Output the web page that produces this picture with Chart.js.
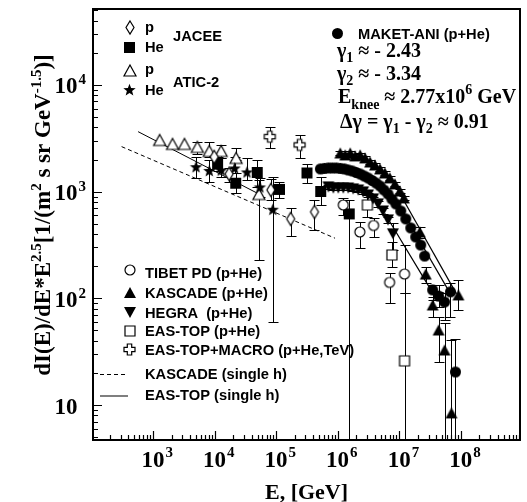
<!DOCTYPE html>
<html>
<head>
<meta charset="utf-8">
<script src="https://cdn.jsdelivr.net/npm/chart.js@4.4.0/dist/chart.umd.min.js"></script>
<style>
  html, body { margin: 0; padding: 0; background: #fff; }
  #wrap { width: 527px; height: 502px; }
</style>
</head>
<body>
<div id="wrap"><canvas id="chart" width="527" height="502"></canvas></div>
<script>
// energy in GeV, flux as dI/dE * E^2.5
const jaceeP_E  = [9890, 17260, 82200, 172600, 421000];
const jaceeP_F  = [2115, 1465, 1037, 555, 646];
const jaceeP_hi = [2240, 1656, 1306, 698, 836];
const jaceeP_lo = [1990, 1241, 836, 385, 437];

const jaceeHe_E  = [11220, 22100, 49400, 113500, 318000, 532000, 1545000];
const jaceeHe_F  = [1818, 1199, 1513, 1049, 1496, 1004, 618];
const jaceeHe_hi = [2130, 1487, 1982, 1241, 1805, 1383, 836];
const jaceeHe_lo = [1560, 966, 1114, 867, 1199, 750, 1];

const aticP_E  = [1283, 2080, 3245, 5260, 8220, 12830, 22400, 52600];
const aticP_F  = [3050, 2800, 2800, 2625, 2405, 2405, 2070, 950];
const aticP_hi = [null, null, null, 2942, 2942, 2740, 2550, 1288];
const aticP_lo = [null, null, null, 2254, 2128, 2055, 1980, 229];

const aticHe_E  = [5010, 8220, 12830, 21200, 33650, 54600, 88500];
const aticHe_F  = [1715, 1581, 1597, 1667, 1530, 1107, 684];
const aticHe_hi = [2128, 1982, 2070, 2128, 2070, 1344, 1382];
const aticHe_lo = [1335, 1241, 1374, 1497, 1288, 892, 60.5];

const maket_E = [5.26e5, 6.10e5, 7.08e5, 8.22e5, 9.53e5, 1.107e6, 1.283e6, 1.489e6, 1.726e6, 2.004e6,
                 2.323e6, 2.698e6, 3.126e6, 3.63e6, 4.21e6, 4.89e6, 5.66e6, 6.58e6, 7.62e6, 8.85e6,
                 1.064e7, 1.282e7, 1.545e7, 1.858e7, 2.24e7, 2.60e7, 3.50e7, 4.37e7, 5.46e7, 6.82e7, 8.22e7];
const maket_F = [1633, 1650, 1667, 1667, 1667, 1650, 1633, 1596, 1563, 1513,
                 1465, 1403, 1343, 1273, 1206, 1130, 1037, 951, 853, 767,
                 659, 555, 457, 376, 316, 249, 120, 105, 92.4, 115, 20.4];
const maket_hi = [null, null, null, null, null, null, null, null, null, null,
                  null, null, null, null, null, null, null, null, null, null,
                  null, null, null, null, null, null, 133, 133, 112.6, 139, 41.4];
const maket_lo = [null, null, null, null, null, null, null, null, null, null,
                  null, null, null, null, null, null, null, null, null, null,
                  null, null, null, null, null, null, 96.6, 83, 62.7, 67, 1];

const kascade_E = [1.106e6, 1.331e6, 1.602e6, 1.928e6, 2.323e6, 2.80e6, 3.37e6, 4.05e6, 4.89e6, 5.87e6,
                   7.08e6, 8.53e6, 1.026e7, 1.191e7, 2.16e7, 2.70e7, 3.50e7, 4.37e7, 5.46e7, 7.08e7, 9.18e7];
const kascade_F = [2305, 2210, 2305, 2162, 2210, 2070, 1897, 1779, 1633, 1497,
                   1344, 1181, 1015, 873, 419, 169, 86.7, 50.5, 32.8, 8.43, 107.6];
const kascade_hi = [2420, 2320, 2420, 2270, 2320, 2170, 1990, 1870, 1715, 1570,
                    1410, 1240, 1066, 917, 470, 198, 104, 67.3, 58.9, 40.7, 148];
const kascade_lo = [2190, 2100, 2190, 2054, 2100, 1966, 1800, 1690, 1550, 1420,
                    1277, 1122, 964, 829, 370, 138, 67, 25.4, 1, 1, 77.6];

const hegra_E = [7.08e5, 8.53e5, 1.026e6, 1.236e6, 1.489e6, 1.79e6, 2.16e6, 2.60e6, 3.13e6, 3.77e6,
                 4.53e6, 5.46e6, 6.58e6, 7.91e6];
const hegra_F = [1107, 1083, 1083, 1083, 1083, 1060, 1037, 994, 931, 855, 767, 659, 543, 402];
const hegra_hi = [1160, 1135, 1135, 1135, 1135, 1110, 1090, 1045, 980, 900, 810, 700, 580, 507];
const hegra_lo = [1055, 1030, 1030, 1030, 1030, 1010, 985, 945, 885, 810, 725, 620, 505, 284];

const tibet_E  = [1.236e6, 2.30e6, 3.84e6, 7.0e6, 1.222e7];
const tibet_F  = [750, 419, 482, 141, 169];
const tibet_hi = [867, 523, 568, 173, 316];
const tibet_lo = [605, 295, 376, 91.2, 112];

const eastop_E  = [3.05e6, 7.62e6, 1.222e7];
const eastop_F  = [750, 255, 25.9];
const eastop_hi = [931, 340, 112];
const eastop_lo = [583, 198, 1];

const macro_E  = [79000, 241000];
const macro_F  = [3275, 2740];
const macro_hi = [4060, 3400];
const macro_lo = [2550, 2055];

// single hadron spectra (power laws)
const kascadeH_E = [309, 9.08e5];
const kascadeH_F = [2642, 366];
const eastopH_E  = [573, 52600];
const eastopH_F  = [3648, 950];

// knee fits
const fitK_E = [9.53e6, 8.53e7];
const fitK_F = [1037, 110];
const fitM_E = [9.53e6, 6.5e7];
const fitM_F = [778, 115.6];
const fitH_E = [5.82e6, 3.28e7, 5.4e7];
const fitH_F = [628, 120, 111.7];

const SERIF = '"Liberation Serif", "Times New Roman", serif';
const SANS = '"Liberation Sans", Arial, sans-serif';

function makeMarker(kind, w, h) {
  h = h || w;
  const c = document.createElement('canvas');
  c.width = Math.ceil(w + 4);
  c.height = Math.ceil(h + 4);
  const g = c.getContext('2d');
  g.translate(c.width / 2, c.height / 2);
  g.lineWidth = 1.2;
  g.strokeStyle = '#000';
  g.fillStyle = '#000';
  const rx = w / 2, ry = h / 2;
  g.beginPath();
  if (kind.startsWith('circle')) {
    g.arc(0, 0, rx, 0, Math.PI * 2);
  } else if (kind.startsWith('square')) {
    g.rect(-rx, -ry, w, h);
  } else if (kind.startsWith('triUp')) {
    g.moveTo(0, -ry); g.lineTo(rx, ry); g.lineTo(-rx, ry); g.closePath();
  } else if (kind.startsWith('triDown')) {
    g.moveTo(0, ry); g.lineTo(rx, -ry); g.lineTo(-rx, -ry); g.closePath();
  } else if (kind.startsWith('diamond')) {
    g.moveTo(0, -ry); g.lineTo(rx, 0); g.lineTo(0, ry); g.lineTo(-rx, 0); g.closePath();
  } else if (kind.startsWith('star')) {
    for (let i = 0; i < 10; i++) {
      const r = i % 2 ? ry * 0.42 : ry;
      const a = -Math.PI / 2 + i * Math.PI / 5;
      const px = r * Math.cos(a), py = r * Math.sin(a) + ry * 0.1;
      if (i === 0) g.moveTo(px, py); else g.lineTo(px, py);
    }
    g.closePath();
  } else if (kind.startsWith('cross')) {
    const a = w * 0.2;
    const p = [[-a, -ry], [a, -ry], [a, -a], [rx, -a], [rx, a], [a, a], [a, ry], [-a, ry], [-a, a], [-rx, a], [-rx, -a], [-a, -a]];
    p.forEach((q, i) => i ? g.lineTo(q[0], q[1]) : g.moveTo(q[0], q[1]));
    g.closePath();
  }
  if (kind.endsWith('Fill')) {
    g.fill();
  } else {
    g.fillStyle = '#fff';
    g.fill();
    g.stroke();
  }
  return c;
}

const mk = {
  diamond: makeMarker('diamondOpen', 8, 13),
  square: makeMarker('squareFill', 11),
  triOpen: makeMarker('triUpOpen', 12, 11),
  star: makeMarker('starFill', 13),
  dot: makeMarker('circleFill', 11),
  ring: makeMarker('circleOpen', 10),
  triFill: makeMarker('triUpFill', 12, 11),
  triDown: makeMarker('triDownFill', 12, 11),
  box: makeMarker('squareOpen', 10),
  cross: makeMarker('crossOpen', 11)
};

function pts(E, F, hi, lo) {
  return E.map((e, i) => ({ x: e, y: F[i], hi: hi ? hi[i] : null, lo: lo ? lo[i] : null }));
}

function markerSet(label, E, F, hi, lo, style) {
  return {
    label, data: pts(E, F, hi, lo), pointStyle: style, pointRadius: 6,
    showLine: false, errorBars: true
  };
}

function lineSet(label, E, F, dash, width) {
  return {
    label, data: pts(E, F), showLine: true, pointRadius: 0, borderColor: '#000',
    borderWidth: width || 1, borderDash: dash || [], fill: false
  };
}

const datasets = [
  markerSet('MAKET-ANI (p+He)', maket_E, maket_F, maket_hi, maket_lo, mk.dot),
  markerSet('KASCADE (p+He)', kascade_E, kascade_F, kascade_hi, kascade_lo, mk.triFill),
  markerSet('HEGRA (p+He)', hegra_E, hegra_F, hegra_hi, hegra_lo, mk.triDown),
  markerSet('TIBET PD (p+He)', tibet_E, tibet_F, tibet_hi, tibet_lo, mk.ring),
  markerSet('EAS-TOP (p+He)', eastop_E, eastop_F, eastop_hi, eastop_lo, mk.box),
  markerSet('EAS-TOP+MACRO (p+He,TeV)', macro_E, macro_F, macro_hi, macro_lo, mk.cross),
  markerSet('JACEE p', jaceeP_E, jaceeP_F, jaceeP_hi, jaceeP_lo, mk.diamond),
  markerSet('JACEE He', jaceeHe_E, jaceeHe_F, jaceeHe_hi, jaceeHe_lo, mk.square),
  markerSet('ATIC-2 He', aticHe_E, aticHe_F, aticHe_hi, aticHe_lo, mk.star),
  markerSet('ATIC-2 p', aticP_E, aticP_F, aticP_hi, aticP_lo, mk.triOpen),
  lineSet('KASCADE (single h)', kascadeH_E, kascadeH_F, [4, 3], 1),
  lineSet('EAS-TOP (single h)', eastopH_E, eastopH_F, [], 1),
  lineSet('fit KASCADE', fitK_E, fitK_F, [], 1.2),
  lineSet('fit MAKET-ANI', fitM_E, fitM_F, [], 1.2),
  lineSet('fit HEGRA', fitH_E, fitH_F, [], 1.2)
];

// text runs: [text, size, dy]
function runs(ctx, x, y, parts, family) {
  parts.forEach(([t, size, dy]) => {
    ctx.font = 'bold ' + size + 'px ' + family;
    ctx.fillText(t, x, y + dy);
    x += ctx.measureText(t).width;
  });
  return x;
}
function runsWidth(ctx, parts, family) {
  let w = 0;
  parts.forEach(([t, size]) => {
    ctx.font = 'bold ' + size + 'px ' + family;
    w += ctx.measureText(t).width;
  });
  return w;
}

const errorBars = {
  id: 'errorBars',
  beforeDatasetsDraw(chart) {
    const { ctx, chartArea: a, scales: { x, y } } = chart;
    ctx.save();
    ctx.beginPath();
    ctx.rect(a.left, a.top, a.right - a.left, a.bottom - a.top);
    ctx.clip();
    ctx.strokeStyle = '#000';
    ctx.lineWidth = 1;
    chart.data.datasets.forEach(ds => {
      if (!ds.errorBars) return;
      ds.data.forEach(p => {
        if (p.lo == null) return;
        const px = Math.round(x.getPixelForValue(p.x)) + 0.5;
        const top = Math.round(y.getPixelForValue(p.hi)) + 0.5;
        const bot = Math.round(y.getPixelForValue(p.lo)) + 0.5;
        ctx.beginPath();
        ctx.moveTo(px, top); ctx.lineTo(px, bot);
        ctx.moveTo(px - 5, top); ctx.lineTo(px + 5, top);
        ctx.moveTo(px - 5, bot); ctx.lineTo(px + 5, bot);
        ctx.stroke();
      });
    });
    ctx.restore();
  }
};

const frame = {
  id: 'frame',
  afterDraw(chart) {
    const { ctx, chartArea: a, scales: { x, y } } = chart;
    ctx.save();
    ctx.fillStyle = '#000';
    ctx.strokeStyle = '#000';

    // axis ticks
    ctx.lineWidth = 1.2;
    ctx.beginPath();
    for (let d = 0; d <= 5; d++) {
      for (let k = 1; k <= 9; k++) {
        const v = k * Math.pow(10, d);
        if (v < y.min || v > y.max) continue;
        const py = Math.round(y.getPixelForValue(v)) + 0.5;
        ctx.moveTo(a.left, py);
        ctx.lineTo(a.left + (k === 1 ? 9 : 5), py);
      }
    }
    for (let d = 2; d <= 9; d++) {
      for (let k = 1; k <= 9; k++) {
        const v = k * Math.pow(10, d);
        if (v < x.min || v > x.max) continue;
        const px = Math.round(x.getPixelForValue(v)) + 0.5;
        ctx.moveTo(px, a.bottom);
        ctx.lineTo(px, a.bottom - (k === 1 ? 9 : 5));
      }
    }
    ctx.stroke();

    ctx.lineWidth = 2;
    ctx.strokeRect(a.left, a.top, a.right - a.left, a.bottom - a.top);

    // tick labels
    ctx.textBaseline = 'alphabetic';
    [1, 2, 3, 4].forEach(p => {
      const py = y.getPixelForValue(Math.pow(10, p));
      ctx.font = 'bold 23px ' + SERIF;
      ctx.textAlign = 'right';
      ctx.fillText('10', 77.5, py + 8.5);
      if (p > 1) {
        ctx.font = 'bold 15px ' + SERIF;
        ctx.textAlign = 'left';
        ctx.fillText(String(p), 78.5, py - 0.5);
      }
    });
    [3, 4, 5, 6, 7, 8].forEach(p => {
      const px = x.getPixelForValue(Math.pow(10, p));
      ctx.font = 'bold 23px ' + SERIF;
      ctx.textAlign = 'center';
      ctx.fillText('10', px, 466.5);
      const w = ctx.measureText('10').width;
      ctx.font = 'bold 15px ' + SERIF;
      ctx.textAlign = 'left';
      ctx.fillText(String(p), px + w / 2 + 1, 457);
    });

    // axis titles
    ctx.font = 'bold 22px ' + SERIF;
    ctx.textAlign = 'center';
    ctx.fillText('E, [GeV]', 306.5, 498.5);

    const yTitle = [['dI(E)/dE*E', 23, 0], ['2.5', 15, -9], ['[1/(m', 23, 0], ['2', 15, -9],
                    [' s sr GeV', 23, 0], ['-1.5', 15, -9], [')]', 23, 0]];
    ctx.save();
    ctx.translate(50, 215);
    ctx.rotate(-Math.PI / 2);
    ctx.textAlign = 'left';
    const tw = runsWidth(ctx, yTitle, SERIF);
    runs(ctx, -tw / 2, 0, yTitle, SERIF);
    ctx.restore();

    // legends
    ctx.textAlign = 'left';
    const sans = 'bold 14.7px ' + SANS;
    const put = (m, cx, cy) => ctx.drawImage(m, Math.round(cx - m.width / 2), Math.round(cy - m.height / 2));
    const label = (t, lx, by) => { ctx.font = sans; ctx.fillText(t, lx, by); };

    put(mk.diamond, 129.5, 27); label('p', 145, 32);
    put(mk.square, 129.5, 47); label('He', 145, 52);
    label('JACEE', 173, 41);
    put(mk.triOpen, 129.5, 70); label('p', 145, 74);
    put(mk.star, 129.5, 89); label('He', 145, 95);
    label('ATIC-2', 173, 87);

    put(mk.dot, 337, 33); label('MAKET-ANI (p+He)', 358, 39);

    put(mk.ring, 129.5, 270); label('TIBET PD (p+He)', 145, 277.5);
    put(mk.triFill, 129.5, 292.5); label('KASCADE (p+He)', 145, 297.5);
    put(mk.triDown, 129.5, 312.5); label('HEGRA  (p+He)', 145, 317.5);
    put(mk.box, 129.5, 330.5); label('EAS-TOP (p+He)', 145, 336);
    put(mk.cross, 129.5, 349.5); label('EAS-TOP+MACRO (p+He,TeV)', 145, 354.5);

    ctx.lineWidth = 1;
    ctx.setLineDash([4, 3]);
    ctx.beginPath(); ctx.moveTo(100, 374.5); ctx.lineTo(128, 374.5); ctx.stroke();
    ctx.setLineDash([]);
    label('KASCADE (single h)', 145, 378.5);
    ctx.lineWidth = 1.5;
    ctx.strokeStyle = '#555';
    ctx.beginPath(); ctx.moveTo(100, 396); ctx.lineTo(128, 396); ctx.stroke();
    label('EAS-TOP (single h)', 145, 400);

    // fit parameters
    ctx.fillStyle = '#000';
    runs(ctx, 337, 57, [['\u03b3', 20, 0], ['1', 14, 5], [' \u2248 - 2.43', 20, 0]], SERIF);
    runs(ctx, 337, 80, [['\u03b3', 20, 0], ['2', 14, 5], [' \u2248 - 3.34', 20, 0]], SERIF);
    runs(ctx, 338, 103, [['E', 20, 0], ['knee', 14, 6], [' \u2248 2.77x10', 20, 0], ['6', 14, -9], [' GeV', 20, 0]], SERIF);
    runs(ctx, 340, 128, [['\u0394\u03b3 = \u03b3', 20, 0], ['1', 14, 5], [' - \u03b3', 20, 0], ['2', 14, 5], [' \u2248 0.91', 20, 0]], SERIF);

    ctx.restore();
  }
};

new Chart(document.getElementById('chart'), {
  type: 'scatter',
  data: { datasets },
  options: {
    responsive: false,
    animation: false,
    events: [],
    layout: { padding: { left: 93, right: 4, top: 9, bottom: 62 } },
    plugins: { legend: { display: false }, tooltip: { enabled: false } },
    scales: {
      x: { type: 'logarithmic', min: 106, max: 9.2e8, display: false },
      y: { type: 'logarithmic', min: 4.7, max: 5.15e4, display: false }
    }
  },
  plugins: [errorBars, frame]
});
</script>
</body>
</html>
